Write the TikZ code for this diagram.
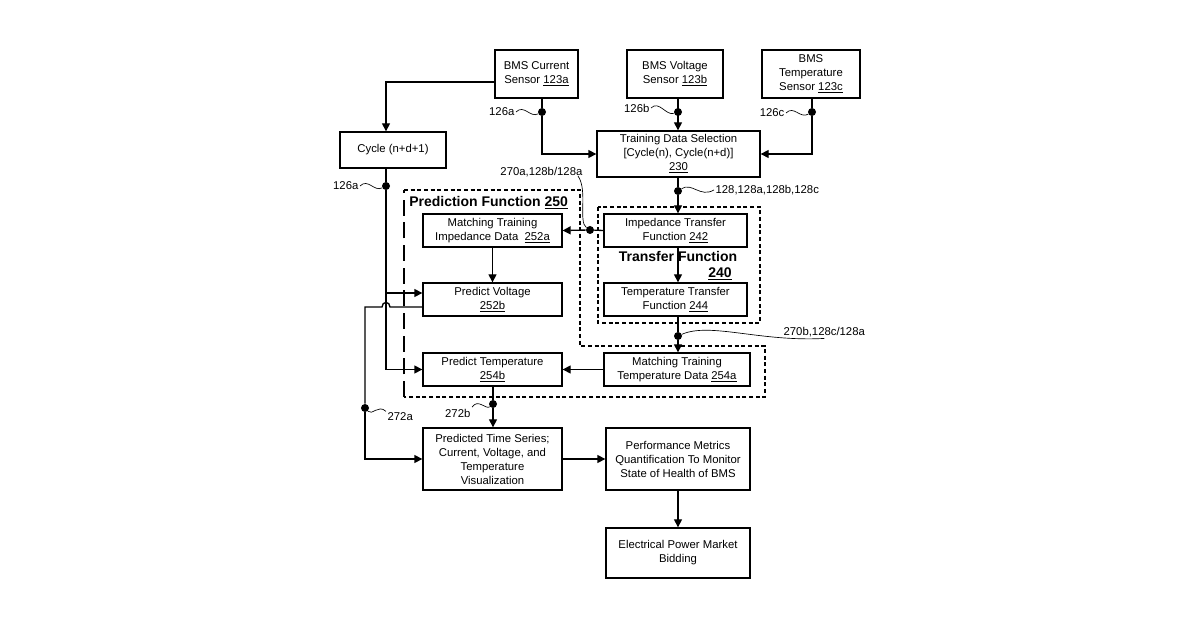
\documentclass[tikz,border=0pt]{standalone}
\usepackage{fontspec}
\setmainfont{Liberation Sans}
\usetikzlibrary{arrows.meta}
\tikzset{
  box/.style={draw,line width=1pt,align=center,inner sep=1pt,font=\fontsize{8.5}{10.5}\selectfont},
  sqbox/.style={box,minimum width=104.25pt,minimum height=24.75pt},
  arr/.style={line width=1pt,-{Triangle[length=6pt,width=6pt]}},
  ln/.style={line width=1pt},
  dot/.style={circle,fill,inner sep=0pt,minimum size=6pt},
  lbl/.style={font=\fontsize{8.5}{10}\selectfont,inner sep=1pt},
  wig/.style={line width=0.5pt},
  shortdash/.style={line width=1.8pt,dash pattern=on 3pt off 2pt},
}
\begin{document}
\begin{tikzpicture}[x=0.75pt,y=0.75pt,yscale=-1,xscale=1]
\useasboundingbox (0,0) rectangle (1200,630);

% sensors
\node[box,minimum width=62.25pt,minimum height=36pt] (cur) at (536.5,74) {BMS Current\\Sensor \underline{123a}};
\node[box,minimum width=72pt,minimum height=36pt] (volt) at (675,74) {BMS Voltage\\Sensor \underline{123b}};
\node[box,minimum width=73.5pt,minimum height=36pt] (temp) at (811,74) {BMS\\Temperature\\Sensor \underline{123c}};
\node[box,minimum width=79.5pt,minimum height=27pt] (cyc) at (393,150) {Cycle (n+d+1)};
\node[box,minimum width=122.25pt,minimum height=34.5pt] (train) at (678.5,154) {Training Data Selection\\{}[Cycle(n), Cycle(n+d)]\\\underline{230}};

% function boxes
\node[sqbox] (mimp) at (492.5,230.5) {Matching Training\\Impedance Data\ \ \underline{252a}};
\node[sqbox,minimum width=107.25pt] (imp) at (675.5,230.5) {Impedance Transfer\\Function \underline{242}};
\node[sqbox] (pv) at (492.5,299.5) {Predict Voltage\\\underline{252b}};
\node[sqbox,minimum width=107.25pt] (ttf) at (675.5,299.5) {Temperature Transfer\\Function \underline{244}};
\node[sqbox] (pt) at (492.5,369.5) {Predict Temperature\\\underline{254b}};
\node[sqbox,minimum width=109.5pt] (mt) at (677,369.5) {Matching Training\\Temperature Data \underline{254a}};
\node[box,minimum width=104.25pt,minimum height=46.5pt] (pts) at (492.5,459) {Predicted Time Series;\\Current, Voltage, and\\Temperature\\Visualization};
\node[box,minimum width=108pt,minimum height=46.5pt] (perf) at (678,459) {Performance Metrics\\Quantification To Monitor\\State of Health of BMS};
\node[box,minimum width=108pt,minimum height=37.5pt] (elec) at (678,553) {Electrical Power Market\\Bidding};

% dashed regions
\draw[line width=1pt,dash pattern=on 12pt off 5pt] (404,397) -- (404,190);
\draw[shortdash] (404,190) -- (580,190) -- (580,346) -- (765,346) -- (765,397) -- (404,397);
\draw[shortdash] (598,207) rectangle (760,323);
\node[anchor=west,font=\bfseries\fontsize{10.5}{12}\selectfont,inner sep=0pt] (pflbl) at (409,203) {Prediction Function \underline{250}};
\node[font=\bfseries\fontsize{10.5}{12}\selectfont,inner sep=0pt] (tflbl) at (678,257) {Transfer Function};
\node[font=\bfseries\fontsize{10.5}{12}\selectfont,inner sep=0pt] (tfnum) at (720,274) {\underline{240}};

% junction dots
\node[dot] (d126a) at (542,112) {};
\node[dot] (d126b) at (678,112) {};
\node[dot] (d126c) at (812,112) {};
\node[dot] (dcyc) at (386,186) {};
\node[dot] (d128) at (678,191) {};
\node[dot] (d270a) at (590,230) {};
\node[dot] (d270b) at (678,336) {};
\node[dot] (d272a) at (365,408) {};
\node[dot] (d272b) at (493,404) {};

% connectors
\draw[arr] (cur.west |- 0,82) -| (cyc.north -| 386,0);
\draw[ln] (542,98) -- (d126a);
\draw[arr] (d126a) |- (train.west);
\draw[arr] (volt.south -| d126b) -- (train.north -| d126b);
\draw[ln] (812,98) -- (d126c);
\draw[arr] (d126c) |- (train.east);
\draw[ln] (cyc.south -| dcyc) -- (dcyc);
\draw[arr] (dcyc) |- (pt.west);
\draw[arr] (386,293) -- (pv.west |- 0,293);
\draw[ln] (train.south -| d128) -- (d128);
\draw[arr] (d128) -- (imp.north -| d128);
\draw[ln] (imp.west) -- (d270a);
\draw[arr] (d270a) -- (mimp.east);
\draw[arr] (mimp.south) -- (pv.north);
\draw[arr] (imp.south -| 678,0) -- (ttf.north -| 678,0);
\draw[ln] (ttf.south -| d270b) -- (d270b);
\draw[arr] (d270b) -- (mt.north -| d270b);
\draw[arr] (mt.west) -- (pt.east);
\draw[ln] (pt.south -| d272b) -- (d272b);
\draw[arr] (d272b) -- (pts.north -| d272b);
\draw[ln] (pv.west |- 0,307) -- (390,307) .. controls (390,301) and (382,301) .. (382,307) -- (365,307) -- (d272a);
\draw[arr] (d272a) |- (pts.west);
\draw[arr] (pts.east) -- (perf.west);
\draw[arr] (perf.south) -- (elec.north);

% reference labels
\node[lbl,anchor=east] (l126a) at (516,112) {126a};
\draw[wig] (l126a.east) .. controls (524,104) and (530,118) .. (d126a);
\node[lbl,anchor=east] (l126b) at (651,108) {126b};
\draw[wig] (l126b.east) .. controls (659,100) and (666,116) .. (d126b);
\node[lbl,anchor=east] (l126c) at (786,113) {126c};
\draw[wig] (l126c.east) .. controls (794,105) and (800,119) .. (d126c);
\node[lbl,anchor=east] (l126a2) at (360,186) {126a};
\draw[wig] (l126a2.east) .. controls (368,178) and (374,192) .. (dcyc);
\node[lbl,anchor=east] (l270a) at (584,172) {270a,128b/128a};
\draw[wig] (578,176) .. controls (588,190) and (578,222) .. (d270a);
\node[lbl,anchor=west] (l128) at (714,190) {128,128a,128b,128c};
\draw[wig] (d128) .. controls (692,182) and (700,198) .. (l128.west);
\node[lbl,anchor=west] (l270b) at (782,332) {270b,128c/128a};
\draw[wig] (d270b) .. controls (710,322) and (760,342) .. (l270b.south);
\node[lbl,anchor=west] (l272a) at (386,417) {272a};
\draw[wig] (d272a) .. controls (372,416) and (378,404) .. (l272a.north west);
\node[lbl,anchor=east] (l272b) at (472,413) {272b};
\draw[wig] (l272b.north east) .. controls (478,398) and (486,410) .. (d272b);
\end{tikzpicture}
\end{document}
